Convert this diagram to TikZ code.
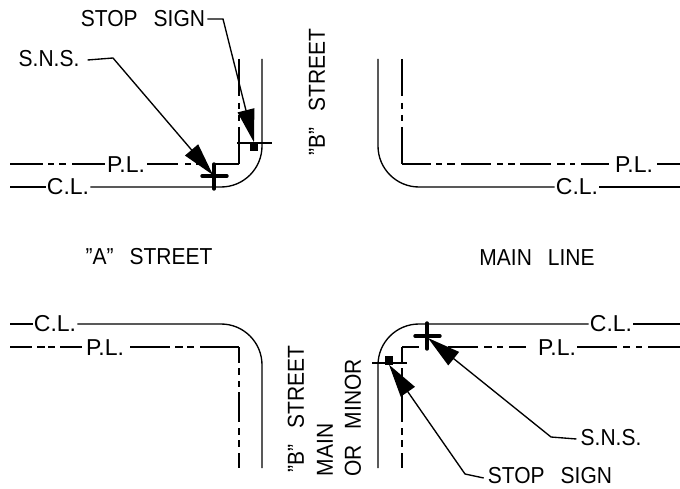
\documentclass[tikz,border=0pt]{standalone}
\usepackage{fontspec}
\usepackage{graphicx}
\setmainfont{Liberation Sans}
\usetikzlibrary{arrows.meta}
\newcommand\tx[1]{\scalebox{1}[1.1]{#1}}
\newcommand\gp{\hspace{16pt}}
\tikzset{
  lbl/.style={inner sep=0pt,font=\fontsize{21}{21}\selectfont,text=black},
  sm/.style={inner sep=0pt,font=\fontsize{23}{23}\selectfont,text=black},
  vlbl/.style={lbl,rotate=90},
  ln/.style={line width=1.35pt,black},
  lead/.style={line width=1.35pt,black,-{Triangle[length=33pt,width=17pt]}},
  tick/.style={line width=1.5pt,black},
  cross/.style={line width=3.4pt,black,line cap=round},
  sq/.style={fill=black,inner sep=0pt,minimum width=8pt,minimum height=9pt}
}
\begin{document}
\begin{tikzpicture}[x=1pt,y=-1pt]
\useasboundingbox[fill=white] (0,0) rectangle (680,489);
% labels
\node[lbl] (ss1) at (143,19) {\tx{STOP\gp SIGN}};
\node[lbl] (sn1) at (49,59) {\tx{S.N.S.}};
\node[vlbl] (b1) at (317,92) {\tx{”B”\gp STREET}};
\node[sm] (pl1) at (126,165) {P.L.};
\node[sm] (cl1) at (68,187) {C.L.};
\node[sm] (pl2) at (634,165) {P.L.};
\node[sm] (cl2) at (577,187) {C.L.};
\node[lbl] (a) at (149,257) {\tx{”A”\gp STREET}};
\node[lbl] (ml) at (537,258) {\tx{MAIN\gp LINE}};
\node[sm] (cl3) at (55,324) {C.L.};
\node[sm] (pl3) at (105,348) {P.L.};
\node[sm] (cl4) at (611,324) {C.L.};
\node[sm] (pl4) at (557,348) {P.L.};
\node[vlbl] (b2) at (296,409) {\tx{”B”\gp STREET}};
\node[vlbl] (mn) at (325,450) {\tx{MAIN}};
\node[vlbl] (om) at (353,418) {\tx{OR\gp MINOR}};
\node[lbl] (sn2) at (611,438) {\tx{S.N.S.}};
\node[lbl] (ss2) at (550,476) {\tx{STOP\gp SIGN}};
% free ends
\coordinate (t1) at (10,187); \coordinate (t3) at (680,187);
\coordinate (t5) at (10,324); \coordinate (t7) at (680,324);
% centre lines
\draw[ln] (t1) -- ([xshift=-1pt]cl1.west);
\draw[ln] ([xshift=1pt]cl1.east) -- (221,187) arc[start angle=90,end angle=0,radius=41] -- (262,59);
\draw[ln] (378,59) -- (378,146) arc[start angle=180,end angle=90,radius=41] -- ([xshift=-1pt]cl2.west);
\draw[ln] ([xshift=1pt]cl2.east) -- (t3);
\draw[ln] (t5) -- ([xshift=-1pt]cl3.west);
\draw[ln] ([xshift=1pt]cl3.east) -- (221,324) arc[start angle=-90,end angle=0,radius=41] -- (262,468);
\draw[ln] (378,468) -- (378,365) arc[start angle=180,end angle=270,radius=41] -- ([xshift=-1pt]cl4.west);
\draw[ln] ([xshift=1pt]cl4.east) -- (t7);
% property lines
\foreach \a/\b in {10/43,48/54,59/66,72/105,147/178,185/191,196/205,213/239}
  \draw[ln] (\a,164) -- (\b,164);
\foreach \a/\b in {59/96,103/109,115/121,127/164}
  {\draw[ln] (239,\a) -- (239,\b); \draw[ln] (402,\a) -- (402,\b);}
\foreach \a/\b in {402/431,436/442,447/455,461/491,497/503,508/515,520/551,557/565,570/575,581/609,657/680}
  \draw[ln] (\a,164) -- (\b,164);
\foreach \a/\b in {10/32,37/45,48/55,60/82,130/170,175/183,187/194,200/239}
  \draw[ln] (\a,347) -- (\b,347);
\foreach \a/\b in {347/363,368/375,381/387,392/422,428/435,440/447,453/468}
  \draw[ln] (239,\a) -- (239,\b);
\foreach \a/\b in {347/363,368/422,428/435,440/447,453/468}
  \draw[ln] (402,\a) -- (402,\b);
\foreach \a/\b in {402/419,448/478,484/492,497/503,509/526,577/617,623/630,636/642,648/680}
  \draw[ln] (\a,347) -- (\b,347);
% stop signs and crosses
\draw[tick] (237,143) -- (272,143);
\node[sq] (q1) at (254,147) {};
\draw[tick] (372,363) -- (407,363);
\node[sq] (q2) at (389,360) {};
\draw[cross] (202,176) -- (227,176);
\draw[cross] (214,164) -- (214,189);
\draw[cross] (415,336) -- (440,336);
\draw[cross] (427,323) -- (427,349);
\coordinate (tip1) at (213,175);
\coordinate (tip2) at (428,338);
% leaders
\draw[lead] ([xshift=8pt,yshift=-1pt]sn1.east) -- (113,58) -- (tip1);
\draw[lead] ([xshift=2pt]ss1.east) -- (223,19) -- (q1.north);
\draw[lead] ([xshift=-4pt,yshift=-1pt]sn2.west) -- (551,437) -- (tip2);
\draw[lead] ([xshift=-4pt,yshift=-2pt]ss2.west) -- (465,474) -- (q2.south);
\end{tikzpicture}
\end{document}
